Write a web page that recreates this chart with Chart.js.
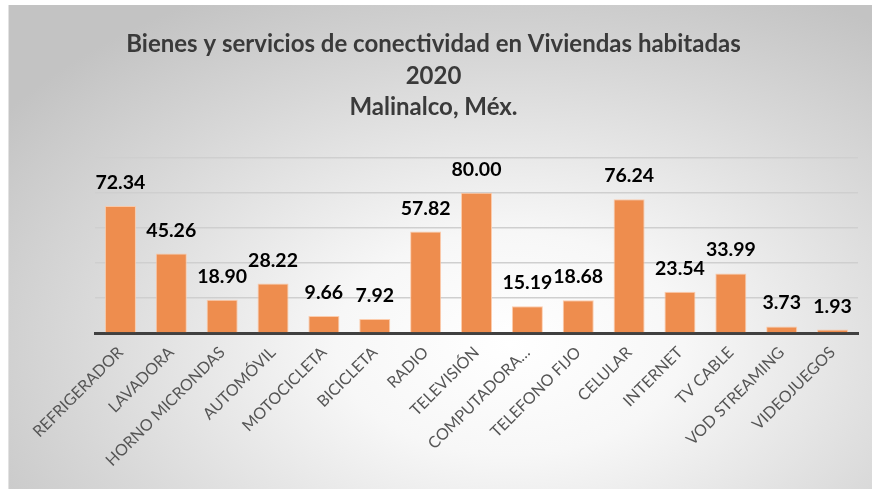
<!DOCTYPE html>
<html>
<head>
<meta charset="utf-8">
<script src="https://cdn.jsdelivr.net/npm/chart.js@4"></script>
<style>
    html, body { margin: 0; padding: 0; background: #ffffff; }
    #box {
        position: absolute; left: 8px; top: 5px; width: 864px; height: 484px;
        background: radial-gradient(ellipse 72% 82% at 58% 70%, #ffffff 0%, #f7f7f7 28%, #d8d8d8 70%, #c3c3c3 100%);
        border-left: 1px solid #e2e2e2;
        box-sizing: border-box;
    }
    #chart { display: block; }
</style>
</head>
<body>
<div id="box"><canvas id="chart" width="863" height="484"></canvas></div>
<script>
var categorias = ["REFRIGERADOR", "LAVADORA", "HORNO MICRONDAS", "AUTOMÓVIL", "MOTOCICLETA", "BICICLETA", "RADIO", "TELEVISIÓN", "COMPUTADORA…", "TELEFONO FIJO", "CELULAR", "INTERNET", "TV CABLE", "VOD STREAMING", "VIDEOJUEGOS"];
var valores = [72.34, 45.26, 18.90, 28.22, 9.66, 7.92, 57.82, 80.00, 15.19, 18.68, 76.24, 23.54, 33.99, 3.73, 1.93];
var titulo = ["Bienes y servicios de conectividad en Viviendas habitadas", "2020", "Malinalco, Méx."];

// etiquetas de valor encima de cada barra
var etiquetas = {
    id: 'etiquetas',
    afterDatasetsDraw: function (chart) {
        var ctx = chart.ctx;
        var meta = chart.getDatasetMeta(0);
        ctx.save();
        ctx.font = "bold 19.5px Lato";
        ctx.fillStyle = "#000000";
        ctx.textAlign = "center";
        ctx.textBaseline = "alphabetic";
        meta.data.forEach(function (bar, i) {
            ctx.fillText(valores[i].toFixed(2), bar.x, bar.y - 17);
        });
        ctx.restore();
    }
};

var grafica = new Chart(document.getElementById("chart").getContext('2d'), {
    type: 'bar',
    data: {
        labels: categorias,
        datasets: [{
            data: valores,
            backgroundColor: '#ee8d4e',
            borderColor: 'rgba(252, 200, 165, 0.9)',
            borderWidth: 1,
            categoryPercentage: 1,
            barPercentage: 0.61
        }]
    },
    options: {
        responsive: false,
        animation: false,
        layout: { padding: { left: 0, right: 14, top: 0, bottom: 0 } },
        plugins: {
            legend: { display: false },
            tooltip: { enabled: false },
            title: {
                display: true,
                text: titulo,
                color: '#3a3a3a',
                font: { family: 'Lato', size: 24, weight: 'bold', lineHeight: 1.3 },
                padding: { top: 24, bottom: 35 }
            }
        },
        scales: {
            x: {
                grid: { display: false },
                border: { color: '#404040', width: 3 },
                ticks: {
                    color: '#555555',
                    font: { family: 'Lato', size: 16 },
                    maxRotation: 45,
                    minRotation: 45,
                    autoSkip: false,
                    padding: 2
                },
                afterFit: function (scale) { scale.height = 156; }
            },
            y: {
                min: 0,
                max: 100,
                ticks: { display: false, stepSize: 20 },
                grid: { color: '#cfcfcf', lineWidth: 1.5, drawTicks: false },
                border: { display: false },
                afterFit: function (scale) { scale.width = 86; }
            }
        }
    },
    plugins: [etiquetas]
});
</script>
</body>
</html>
